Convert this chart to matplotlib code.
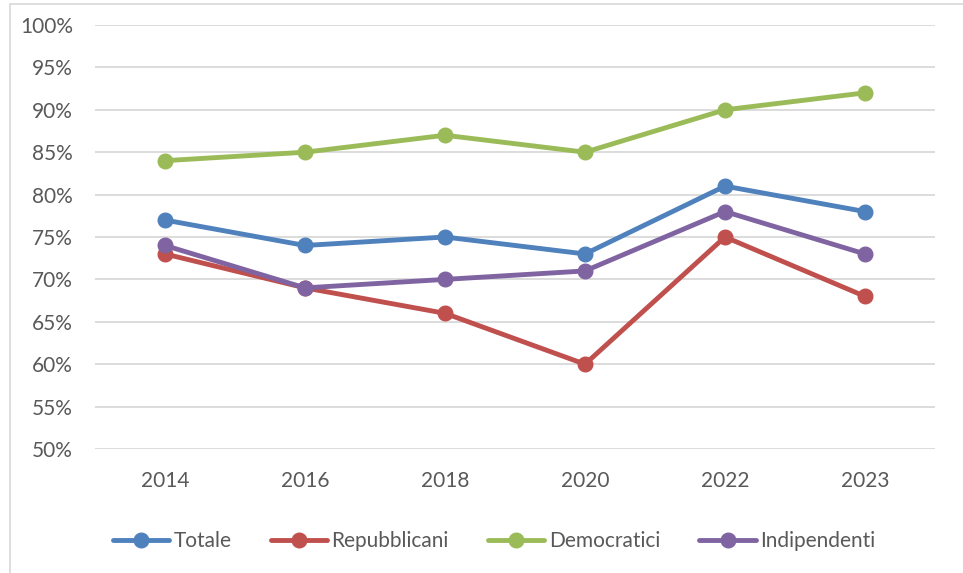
import matplotlib.pyplot as plt
from matplotlib.patches import Rectangle
from matplotlib.ticker import FuncFormatter

# Data
years = ['2014', '2016', '2018', '2020', '2022', '2023']
totale = [77, 74, 75, 73, 81, 78]
repubblicani = [73, 69, 66, 60, 75, 68]
democratici = [84, 85, 87, 85, 90, 92]
indipendenti = [74, 69, 70, 71, 78, 73]

plt.rcParams['font.family'] = ['Lato', 'DejaVu Sans']

fig = plt.figure(figsize=(9.63, 5.73), dpi=100)
# outer chart frame (only left and top edges show in the crop)
fig.add_artist(Rectangle((10 / 963, -0.1), 1.2, 1.1 - 4 / 573, transform=fig.transFigure,
                         fill=False, edgecolor='#D9D9D9', linewidth=1.2))

ax = fig.add_axes([95 / 963, 1 - 449 / 573, 840 / 963, 424 / 573])

x = range(len(years))
series = [
    ('Totale', totale, '#4F81BD'),
    ('Repubblicani', repubblicani, '#C0504D'),
    ('Democratici', democratici, '#9BBB59'),
    ('Indipendenti', indipendenti, '#8064A2'),
]
for name, vals, col in series:
    ax.plot(x, vals, color=col, linewidth=3.5, marker='o', markersize=10.5,
            solid_capstyle='round', label=name, zorder=3)

ax.set_xlim(-0.5, len(years) - 0.5)
ax.set_ylim(50, 100)
ax.set_yticks(range(50, 101, 5))
ax.yaxis.set_major_formatter(FuncFormatter(lambda v, p: f'{int(v)}%'))
ax.set_xticks(list(x))
ax.set_xticklabels(years)
ax.grid(axis='y', color='#D9D9D9', linewidth=1.3)
ax.set_axisbelow(True)
for s in ax.spines.values():
    s.set_visible(False)
ax.tick_params(length=0, labelsize=15, colors='#595959', pad=16)
ax.tick_params(axis='x', pad=16)

fig.legend(loc='center', bbox_to_anchor=(494 / 963, 1 - 541 / 573), ncol=4,
           frameon=False, fontsize=15, labelcolor='#595959', handlelength=2.7,
           columnspacing=1.9, handletextpad=0.2)

fig.savefig('out.png', dpi=100)
